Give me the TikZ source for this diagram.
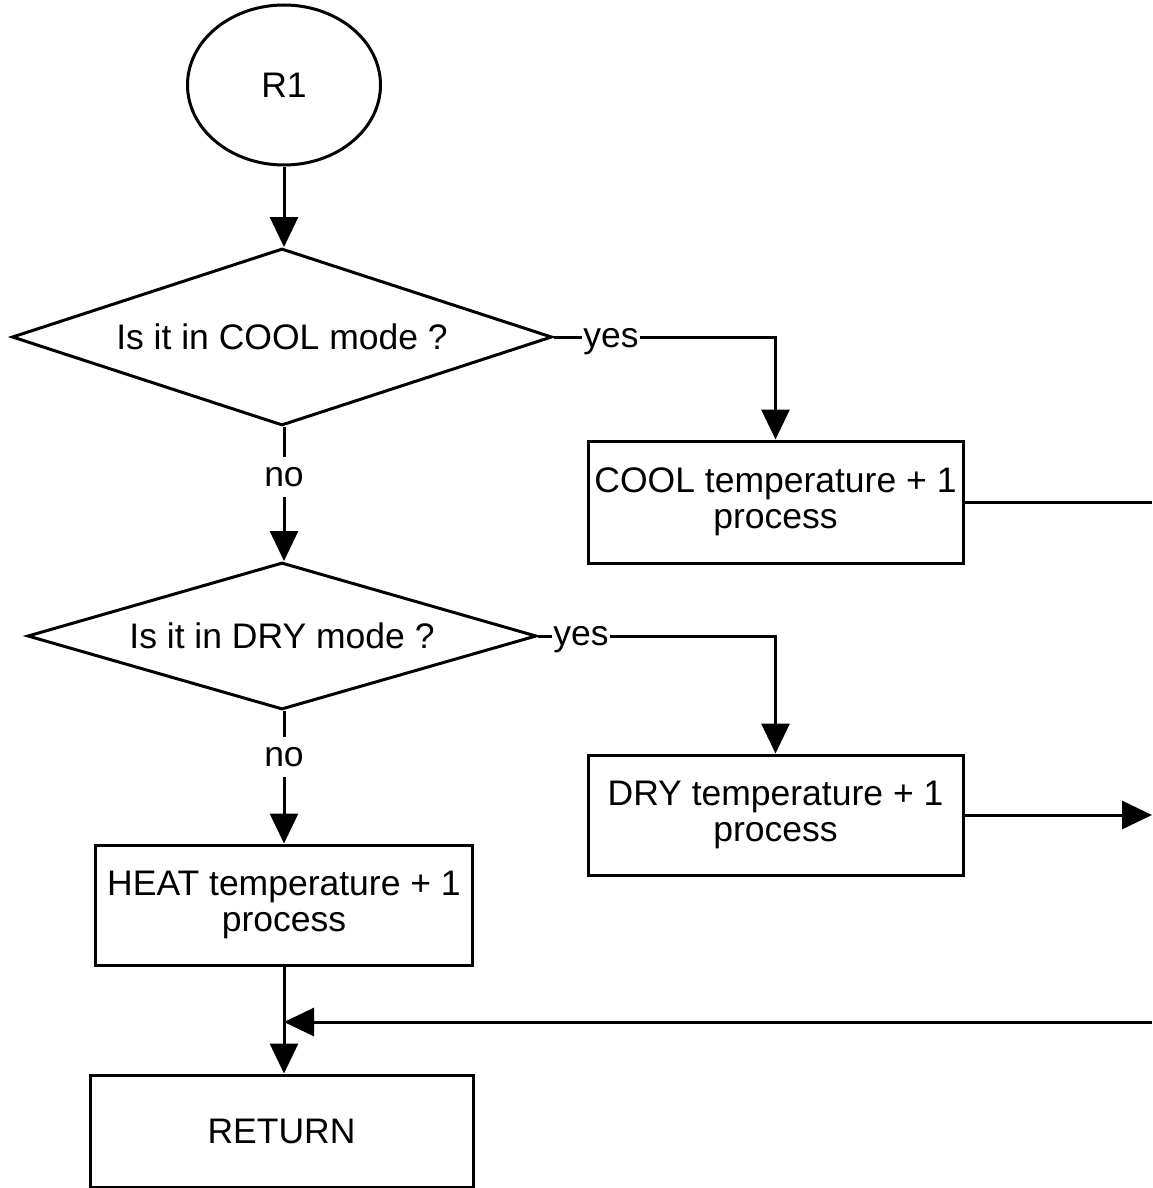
\documentclass[tikz,border=0pt]{standalone}
\usepackage{fontspec}
\setmainfont{Liberation Sans}
\usetikzlibrary{shapes.geometric,arrows.meta}
\begin{document}
\begin{tikzpicture}[x=1pt,y=-1pt,
  every node/.style={font=\fontsize{35.5}{36.5}\selectfont},
  lw/.style={line width=3pt},
  procbox/.style={draw,lw,rectangle,inner sep=0pt,align=center},
  decbox/.style={draw,lw,diamond,inner sep=0pt},
  startnode/.style={draw,lw,ellipse,inner sep=0pt},
  conn/.style={lw},
  arr/.style={lw,-{Triangle[length=30pt,width=28pt]}},
  lbl/.style={inner xsep=1pt,inner ysep=10pt}]
\useasboundingbox (0,0) rectangle (1152,1188);
\node[startnode,minimum width=193pt,minimum height=160pt] (r1) at (284,85) {R1};
\node[decbox,minimum width=540pt,minimum height=177pt,shape aspect=3.05] (d1) at (282,337) {Is it in COOL mode ?};
\node[decbox,minimum width=509pt,minimum height=147pt,shape aspect=3.46] (d2) at (282,636) {Is it in DRY mode ?};
\node[procbox,minimum width=375pt,minimum height=122pt] (cool) at (775.5,502) {COOL temperature + 1\\process};
\node[procbox,minimum width=375pt,minimum height=120pt] (dry) at (775.5,815) {DRY temperature + 1\\process};
\node[procbox,minimum width=377pt,minimum height=120pt] (heat) at (284,905) {HEAT temperature + 1\\process};
\node[procbox,minimum width=383pt,minimum height=112pt] (ret) at (281.5,1131) {RETURN};
\node[lbl] (no1) at (284,477) {no};
\node[lbl] (no2) at (284,757) {no};
\node[lbl,anchor=base] (yes1) at (611,347) {yes};
\node[lbl,anchor=base] (yes2) at (581,645) {yes};
\coordinate (ecool) at (1152,502);
\coordinate (edry) at (1152,815);
\coordinate (eret) at (1152,1022);
\draw[arr] (r1.south -| heat.north) -- (d1.north -| heat.north);
\draw[conn] (d1.east) -- (d1.east -| yes1.west);
\draw[arr] (d1.east -| yes1.east) -| (cool.north);
\draw[conn] (d1.south -| heat.north) -- (no1.north);
\draw[arr] (no1.south) -- (d2.north -| heat.north);
\draw[conn] (d2.east) -- (d2.east -| yes2.west);
\draw[arr] (d2.east -| yes2.east) -| (dry.north);
\draw[conn] (d2.south -| heat.north) -- (no2.north);
\draw[arr] (no2.south) -- (heat.north);
\draw[conn] (cool.east) -- (ecool);
\draw[arr] (dry.east) -- (edry);
\draw[arr] (heat.south) -- (heat.south |- ret.north);
\draw[arr] (eret) -- (eret -| heat.south);
\end{tikzpicture}
\end{document}
